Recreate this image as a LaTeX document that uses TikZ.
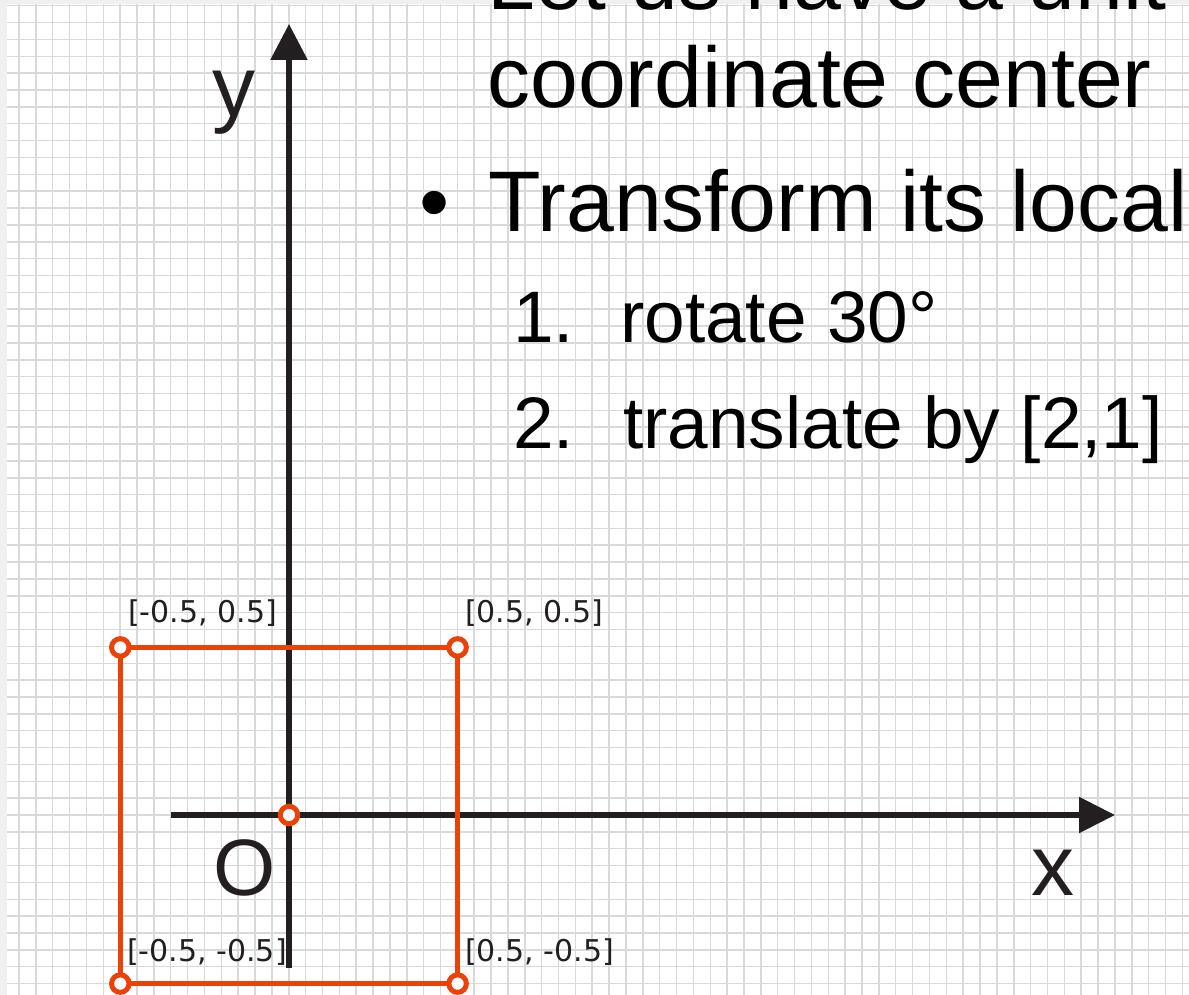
\documentclass[tikz,border=0pt]{standalone}
\usepackage{fontspec}
\setmainfont{Liberation Sans}
\newfontfamily\labelfont{DejaVu Sans}
\usetikzlibrary{arrows.meta}
\definecolor{gridcol}{RGB}{216,217,221}
\definecolor{inkcol}{RGB}{35,31,32}
\definecolor{redcol}{RGB}{234,66,8}
\definecolor{stripcol}{RGB}{240,240,240}
\tikzset{
  gridline/.style={draw=gridcol, line width=1.5pt},
  axisline/.style={draw=inkcol, line width=5.5pt},
  squareline/.style={draw=redcol, line width=5.5pt, line join=miter},
  vertexdot/.style={circle, draw=redcol, fill=white, line width=5pt, minimum size=17.5pt, inner sep=0pt},
  bigtext/.style={inner sep=0pt, anchor=base west, font=\fontsize{86}{100}\selectfont, text=black},
  subtext/.style={inner sep=0pt, anchor=base west, font=\fontsize{73}{88}\selectfont, text=black},
  axislabel/.style={inner sep=0pt, anchor=base west, font=\fontsize{86}{100}\selectfont, text=inkcol},
  coordlabel/.style={inner sep=0pt, anchor=base west, font=\labelfont\fontsize{30}{35}\selectfont, text=inkcol},
}
\begin{document}
\begin{tikzpicture}[x=1pt, y=-1pt]
\useasboundingbox (0,0) rectangle (1189,995);
\fill[white] (0,0) rectangle (1189,995);
% grid
\foreach \k in {-1,...,70} \draw[gridline] ({19+16.86*\k},0) -- ({19+16.86*\k},995);
\foreach \k in {-11,...,49} \draw[gridline] (0,{815-16.86*\k}) -- (1189,{815-16.86*\k});
% page edge strips
\fill[stripcol] (0,0) rectangle (1189,4);
\fill[stripcol] (0,0) rectangle (7,995);
% text
\node[bigtext] (l1) at (487,10) {Let us have a unit};
\node[bigtext] (l2) at (487,108) {coordinate center};
\node[bigtext] (bul) at (419,232) {\textbullet};
\node[bigtext] (l3) at (488,232) {Transform its local};
\node[subtext] (n1) at (513,342) {1.};
\node[subtext] (s1) at (620,342) {rotate 30°};
\node[subtext] (n2) at (513,448) {2.};
\node[subtext] (s2) at (623,448) {translate by [2,1]};
% axes
\coordinate (O) at (289,815);
\coordinate (ytip) at (289,24);
\coordinate (ybot) at (289,968);
\coordinate (xleft) at (171,815);
\coordinate (xtip) at (1115,815);
\draw[axisline, -{Triangle[length=36pt,width=36pt]}] (ybot) -- (ytip);
\draw[axisline, -{Triangle[length=36pt,width=35pt]}] (xleft) -- (xtip);
\node[axislabel] (ylab) at (212,117) {y};
\node[axislabel, font=\fontsize{80}{96}\selectfont] (olab) at (213,895) {O};
\node[axislabel] (xlab) at (1031,895) {x};
% square
\coordinate (A) at (120.3,647.4);
\coordinate (B) at (457.6,647.4);
\coordinate (C) at (457.6,983.6);
\coordinate (D) at (120.3,983.6);
\draw[squareline] (A) -- (B) -- (C) -- (D) -- cycle;
\node[vertexdot] (dA) at (A) {};
\node[vertexdot] (dB) at (B) {};
\node[vertexdot] (dC) at (C) {};
\node[vertexdot] (dD) at (D) {};
\node[vertexdot] (dO) at (O) {};
% corner labels
\node[coordlabel] (la) at (128,622) {[-0.5, 0.5]};
\node[coordlabel] (lb) at (465,622) {[0.5, 0.5]};
\node[coordlabel] (ld) at (127,961) {[-0.5, -0.5]};
\node[coordlabel] (lc) at (465,961) {[0.5, -0.5]};
\end{tikzpicture}
\end{document}
